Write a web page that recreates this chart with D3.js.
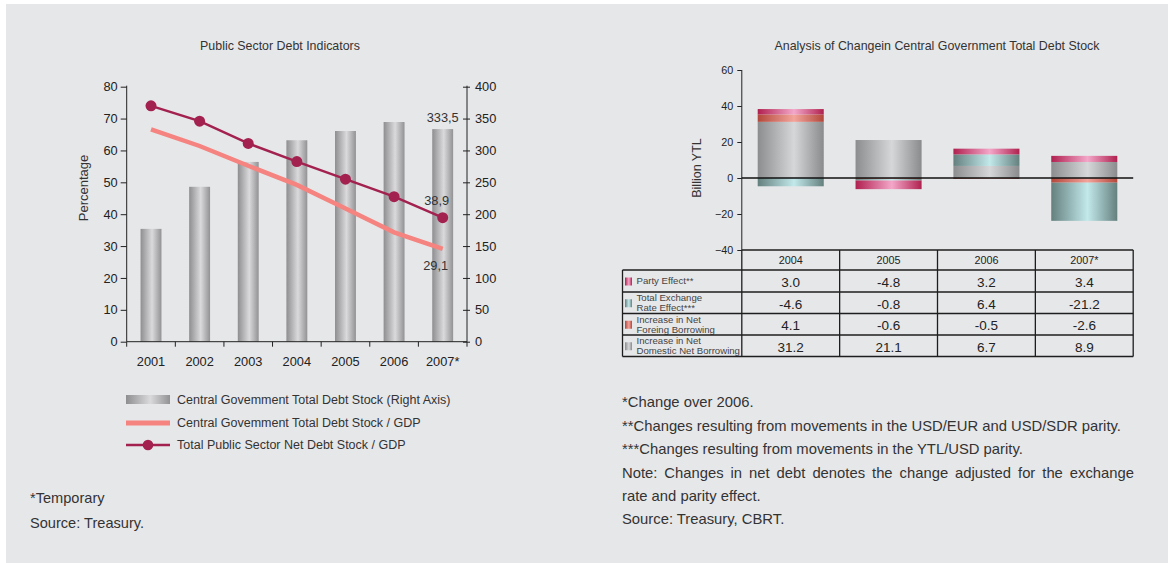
<!DOCTYPE html>
<html><head><meta charset="utf-8">
<script src="https://cdn.jsdelivr.net/npm/d3@7"></script>
<style>
html,body{margin:0;padding:0;background:#fff;}
svg{display:block;font-family:"Liberation Sans",Arial,Helvetica,sans-serif;}
</style></head><body>
<svg id="c" width="1168" height="563"></svg>
<script>
// ---- Public Sector Debt Indicators ----
const years = ["2001", "2002", "2003", "2004", "2005", "2006", "2007*"];
const debtStock = [177, 243, 282, 316, 330.5, 344.6, 333.5];      // billion YTL, right axis
const debtStockGdp = [66.6, 61.4, 55.2, 49.2, 41.8, 34.3, 29.1];  // %
const netDebtGdp = [74.0, 69.2, 62.2, 56.5, 51.0, 45.5, 38.9];    // %
const pctTicks = [0, 10, 20, 30, 40, 50, 60, 70, 80];
const stockTicks = [0, 50, 100, 150, 200, 250, 300, 350, 400];

// ---- Analysis of change in central government total debt stock ----
const changeYears = ["2004", "2005", "2006", "2007*"];
const parityEffect = [3.0, -4.8, 3.2, 3.4];
const exchangeEffect = [-4.6, -0.8, 6.4, -21.2];
const foreignBorrowing = [4.1, -0.6, -0.5, -2.6];
const domesticBorrowing = [31.2, 21.1, 6.7, 8.9];
const changeTicks = [-40, -20, 0, 20, 40, 60];

const svg = d3.select("#c");
const ink = "#333";
const fmtComma = v => d3.format(".1f")(v).replace(".", ",");

// panel background
svg.append("rect").attr("x", 6).attr("y", 4).attr("width", 1162).attr("height", 559).attr("fill", "#e6e7e9");

// cylinder-like horizontal gradients
const defs = svg.append("defs");
function grad(id, edgeL, mid, edgeR) {
  const g = defs.append("linearGradient").attr("id", id).attr("x1", 0).attr("x2", 1).attr("y1", 0).attr("y2", 0);
  g.append("stop").attr("offset", 0).attr("stop-color", edgeL);
  g.append("stop").attr("offset", 0.55).attr("stop-color", mid);
  g.append("stop").attr("offset", 1).attr("stop-color", edgeR);
}
grad("gGrey", "#8c8d8f", "#d6d7d9", "#8a8b8d");
grad("gBar", "#8e8e90", "#dadadc", "#929294");
grad("gPink", "#b0204f", "#f3a7c9", "#b0214f");
grad("gRed", "#b3473b", "#f3a49c", "#b3473b");
grad("gTeal", "#64807e", "#c3e9eb", "#64807e");

// ================= LEFT CHART =================
const L = {x0: 126.7, x1: 467, yTop: 86.7, yBot: 341.7};
const xL = d3.scaleBand().domain(years).range([L.x0, L.x1]).paddingInner(0.57).paddingOuter(0.285);
const yPct = d3.scaleLinear().domain([0, 80]).range([L.yBot, L.yTop]);
const yStock = d3.scaleLinear().domain([0, 400]).range([L.yBot, L.yTop]);
const cx = d => xL(d) + xL.bandwidth() / 2;

svg.append("text").attr("x", 280).attr("y", 50).attr("text-anchor", "middle")
  .attr("font-size", 12.4).attr("fill", ink).text("Public Sector Debt Indicators");

// bars (right axis)
svg.append("g").selectAll("rect").data(years).join("rect")
  .attr("x", d => xL(d)).attr("width", xL.bandwidth())
  .attr("y", (d, i) => yStock(debtStock[i]))
  .attr("height", (d, i) => L.yBot - yStock(debtStock[i]))
  .attr("fill", "url(#gBar)");

// axes
const axL = svg.append("g").attr("transform", `translate(${L.x0},0)`)
  .call(d3.axisLeft(yPct).tickValues(pctTicks).tickSize(6).tickPadding(3));
const axR = svg.append("g").attr("transform", `translate(${L.x1},0)`)
  .call(d3.axisRight(yStock).tickValues(stockTicks).tickSize(3).tickPadding(5));
axR.selectAll(".tick line").attr("x1", -4);
[axL, axR].forEach(a => {
  a.select(".domain").attr("stroke", "#222").attr("d", `M0,${L.yTop - 1}V${L.yBot}`);
  a.selectAll(".tick line").attr("stroke", "#222");
  a.selectAll(".tick text").attr("font-size", 12.8).attr("fill", "#222").attr("font-family", "Liberation Sans, Arial, sans-serif");
});
// x axis with ticks at category boundaries
const gx = svg.append("g");
gx.append("line").attr("x1", L.x0).attr("x2", L.x1).attr("y1", L.yBot).attr("y2", L.yBot).attr("stroke", "#222");
gx.selectAll("line.t").data(d3.range(years.length + 1)).join("line").attr("class", "t")
  .attr("x1", i => L.x0 + i * xL.step()).attr("x2", i => L.x0 + i * xL.step())
  .attr("y1", L.yBot).attr("y2", L.yBot + 5).attr("stroke", "#222");
gx.selectAll("text").data(years).join("text")
  .attr("x", d => cx(d)).attr("y", 366).attr("text-anchor", "middle")
  .attr("font-size", 12.8).attr("fill", "#222").text(d => d);

svg.append("text").attr("transform", "translate(88,188) rotate(-90)").attr("text-anchor", "middle")
  .attr("font-size", 13).attr("fill", ink).text("Percentage");

// lines
const lineGen = arr => d3.line().x((d, i) => cx(years[i])).y(d => yPct(d))(arr);
svg.append("path").attr("d", lineGen(debtStockGdp)).attr("fill", "none")
  .attr("stroke", "#f5837f").attr("stroke-width", 4.5);
svg.append("path").attr("d", lineGen(netDebtGdp)).attr("fill", "none")
  .attr("stroke", "#a3214f").attr("stroke-width", 2.5);
svg.append("g").selectAll("circle").data(netDebtGdp).join("circle")
  .attr("cx", (d, i) => cx(years[i])).attr("cy", d => yPct(d)).attr("r", 5.5).attr("fill", "#a3214f");

// value labels for the last year
const last = years.length - 1;
svg.append("text").attr("x", cx(years[last])).attr("y", yStock(debtStock[last]) - 7)
  .attr("text-anchor", "middle").attr("font-size", 12.8).attr("fill", ink).text(fmtComma(debtStock[last]));
svg.append("text").attr("x", cx(years[last]) - 6).attr("y", yPct(netDebtGdp[last]) - 13)
  .attr("text-anchor", "middle").attr("font-size", 12.8).attr("fill", ink).text(fmtComma(netDebtGdp[last]));
svg.append("text").attr("x", cx(years[last]) - 7).attr("y", yPct(debtStockGdp[last]) + 21)
  .attr("text-anchor", "middle").attr("font-size", 12.8).attr("fill", ink).text(fmtComma(debtStockGdp[last]));

// legend
const lg = svg.append("g").attr("font-size", 12.5).attr("fill", ink);
lg.append("rect").attr("x", 126).attr("y", 395).attr("width", 44).attr("height", 9).attr("fill", "url(#gBar)");
lg.append("text").attr("x", 177).attr("y", 404).text("Central Govemment Total Debt Stock (Right Axis)");
lg.append("line").attr("x1", 126).attr("x2", 170).attr("y1", 423).attr("y2", 423).attr("stroke", "#f5837f").attr("stroke-width", 5);
lg.append("text").attr("x", 177).attr("y", 427).text("Central Govemment Total Debt Stock / GDP");
lg.append("line").attr("x1", 126).attr("x2", 170).attr("y1", 445).attr("y2", 445).attr("stroke", "#a3214f").attr("stroke-width", 2.5);
lg.append("circle").attr("cx", 148).attr("cy", 445).attr("r", 5.3).attr("fill", "#a3214f");
lg.append("text").attr("x", 177).attr("y", 449).text("Total Public Sector Net Debt Stock / GDP");

svg.append("text").attr("x", 30).attr("y", 503).attr("font-size", 14.6).attr("fill", ink).text("*Temporary");
svg.append("text").attr("x", 30).attr("y", 528).attr("font-size", 14.6).attr("fill", ink).text("Source: Treasury.");

// ================= RIGHT CHART =================
const R = {x0: 741.8, x1: 1133.2, yTop: 70, yBot: 250, tblLeft: 622.5};
const xR = d3.scaleBand().domain(changeYears).range([R.x0, R.x1]).paddingInner(0.325).paddingOuter(0.1625);
const yR = d3.scaleLinear().domain([-40, 60]).range([R.yBot, R.yTop]);

svg.append("text").attr("x", 937).attr("y", 50).attr("text-anchor", "middle")
  .attr("font-size", 12.4).attr("fill", ink).text("Analysis of Changein Central Government Total Debt Stock");

const rows = changeYears.map((y, i) => ({
  year: y, domestic: domesticBorrowing[i], foreign: foreignBorrowing[i],
  exchange: exchangeEffect[i], parity: parityEffect[i]
}));
const keys = ["domestic", "foreign", "exchange", "parity"];
const fills = {domestic: "url(#gGrey)", foreign: "url(#gRed)", exchange: "url(#gTeal)", parity: "url(#gPink)"};
const stacked = d3.stack().keys(keys).offset(d3.stackOffsetDiverging)(rows);

svg.append("g").selectAll("g").data(stacked).join("g").attr("fill", s => fills[s.key])
  .selectAll("rect").data(s => s).join("rect")
  .attr("x", d => xR(d.data.year)).attr("width", xR.bandwidth())
  .attr("y", d => yR(Math.max(d[0], d[1])))
  .attr("height", d => Math.abs(yR(d[0]) - yR(d[1])));

const axY = svg.append("g").attr("transform", `translate(${R.x0},0)`)
  .call(d3.axisLeft(yR).tickValues(changeTicks).tickSize(4.5).tickPadding(4));
axY.select(".domain").attr("stroke", "#222").attr("d", `M0,${R.yTop}V${R.yBot}`);
axY.selectAll(".tick line").attr("stroke", "#222");
axY.selectAll(".tick text").attr("font-size", 10.8).attr("fill", "#222").attr("font-family", "Liberation Sans, Arial, sans-serif");

svg.append("line").attr("x1", R.x0).attr("x2", R.x1).attr("y1", yR(0)).attr("y2", yR(0))
  .attr("stroke", "#111").attr("stroke-width", 1.3);

svg.append("text").attr("transform", "translate(701,168) rotate(-90)").attr("text-anchor", "middle")
  .attr("font-size", 12.5).attr("fill", ink).text("Billion YTL");

// data table under the chart
const rowEdges = [250, 270, 292, 313.5, 335, 356.5];
const tableRows = [
  {lines: ["Party Effect**"], fill: "url(#gPink)", vals: parityEffect},
  {lines: ["Total Exchange", "Rate Effect***"], fill: "url(#gTeal)", vals: exchangeEffect},
  {lines: ["Increase in Net", "Foreing Borrowing"], fill: "url(#gRed)", vals: foreignBorrowing},
  {lines: ["Increase in Net", "Domestic Net Borrowing"], fill: "url(#gGrey)", vals: domesticBorrowing}
];
const tb = svg.append("g");
const colEdges = d3.range(changeYears.length + 1).map(i => R.x0 + i * xR.step());
const colCenter = y => xR(y) + xR.bandwidth() / 2;

// header
tb.selectAll("text.h").data(changeYears).join("text").attr("class", "h")
  .attr("x", d => colCenter(d)).attr("y", 264).attr("text-anchor", "middle")
  .attr("font-size", 10.8).attr("fill", "#222").text(d => d);

tableRows.forEach((r, ri) => {
  const top = rowEdges[ri + 1], bot = rowEdges[ri + 2], mid = (top + bot) / 2;
  tb.append("rect").attr("x", 625).attr("y", mid - 3.5).attr("width", 7).attr("height", 8).attr("fill", r.fill);
  r.lines.forEach((t, li) => {
    const dy = r.lines.length === 1 ? 0 : (li === 0 ? -5 : 5);
    tb.append("text").attr("x", 636.5).attr("y", mid + dy).attr("dy", "0.35em")
      .attr("font-size", 9.6).attr("fill", "#444").text(t);
  });
  tb.selectAll(null).data(r.vals).join("text")
    .attr("x", (v, i) => colCenter(changeYears[i])).attr("y", mid + 1).attr("dy", "0.36em")
    .attr("text-anchor", "middle").attr("font-size", 13.5).attr("fill", "#222")
    .text(v => d3.format(".1f")(v).replace("\u2212", "-"));
});

// grid lines of the table
const st = "#1e1e1e";
rowEdges.forEach((y, i) => {
  tb.append("line").attr("x1", i === 0 ? R.x0 : R.tblLeft).attr("x2", R.x1).attr("y1", y).attr("y2", y)
    .attr("stroke", st).attr("stroke-width", 1.3);
});
colEdges.forEach(x => {
  tb.append("line").attr("x1", x).attr("x2", x).attr("y1", rowEdges[0]).attr("y2", rowEdges[5])
    .attr("stroke", st).attr("stroke-width", 1.3);
});
tb.append("line").attr("x1", R.tblLeft).attr("x2", R.tblLeft).attr("y1", rowEdges[1]).attr("y2", rowEdges[5])
  .attr("stroke", st).attr("stroke-width", 1.3);

// notes
const notes = [
  "*Change over 2006.",
  "**Changes resulting from movements in the USD/EUR and USD/SDR parity.",
  "***Changes resulting from movements in the YTL/USD parity.",
  "Note: Changes in net debt denotes the change adjusted for the exchange",
  "rate and parity effect.",
  "Source: Treasury, CBRT."
];
const noteY = [407, 431, 454, 478, 501, 524];
svg.append("g").selectAll("text").data(notes).join("text")
  .attr("x", 622).attr("y", (d, i) => noteY[i]).attr("font-size", 14.8).attr("fill", ink)
  .text(d => d)
  .each(function (d, i) {
    // justified line: spread the gap between words to reach the right margin
    if (i === 3) {
      const w = this.getComputedTextLength();
      const gaps = d.split(" ").length - 1;
      const extra = (1134 - 622 - w) / gaps;
      d3.select(this).attr("word-spacing", extra);
    }
  });
</script>
</body></html>
